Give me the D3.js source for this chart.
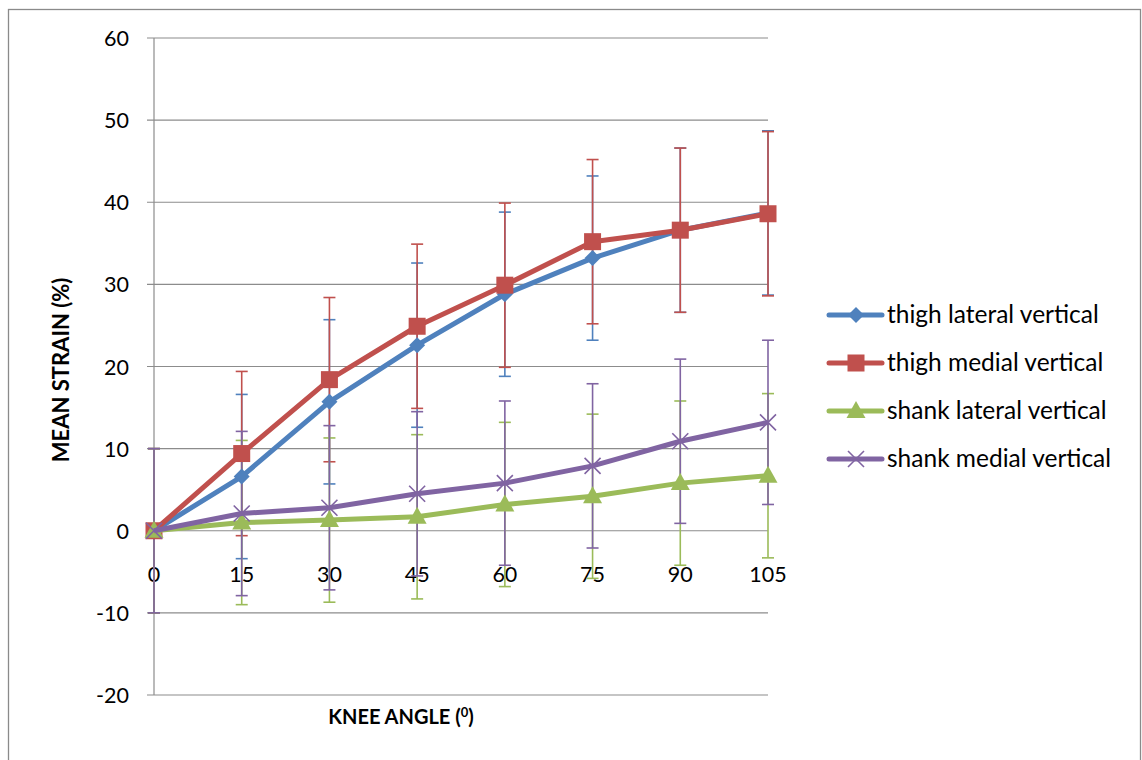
<!DOCTYPE html>
<html>
<head>
<meta charset="utf-8">
<script src="https://cdn.jsdelivr.net/npm/d3@7"></script>
<style>
  body { margin: 0; background: #fff; }
  svg text { font-family: Lato, "Open Sans", sans-serif; fill: #000; }
</style>
</head>
<body>
<svg id="chart" width="1142" height="760"></svg>
<script>
// knee angles (categories)
var angles = [0, 15, 30, 45, 60, 75, 90, 105];
var yTicks = [-20, -10, 0, 10, 20, 30, 40, 50, 60];

// mean strain values
var thighLateral = [0, 6.6, 15.7, 22.6, 28.8, 33.2, 36.6, 38.7];
var thighMedial  = [0, 9.4, 18.4, 24.9, 29.9, 35.2, 36.6, 38.6];
var shankLateral = [0, 1.0, 1.3, 1.7, 3.2, 4.2, 5.8, 6.7];
var shankMedial  = [0, 2.1, 2.8, 4.5, 5.8, 7.9, 10.9, 13.2];
// error bar half-widths (same for every point)
var errAmount = [10, 10, 10, 10, 10, 10, 10, 10];

var seriesNames = ["thigh lateral vertical", "thigh medial vertical", "shank lateral vertical", "shank medial vertical"];
var seriesValues = [thighLateral, thighMedial, shankLateral, shankMedial];
var colors = ["#4F81BD", "#C0504D", "#9BBB59", "#8064A2"];
var markers = ["diamond", "square", "triangle", "cross"];

var svg = d3.select("#chart");

// outer chart border
svg.append("rect")
    .attr("x", 8.5).attr("y", 9.5)
    .attr("width", 1132).attr("height", 760)
    .style("fill", "none").style("stroke", "#8a8a8a").style("stroke-width", 1.3);

var x = d3.scalePoint().domain(angles).range([154, 768]);
var y = d3.scaleLinear().domain([-20, 60]).range([695, 38]);

// gridlines
svg.append("g").selectAll("line")
    .data(yTicks)
    .enter().append("line")
    .attr("x1", 147).attr("x2", 768)
    .attr("y1", function (d) { return y(d); })
    .attr("y2", function (d) { return y(d); })
    .style("stroke", "#8c8c8c").style("stroke-width", 1.2);

// y axis line
svg.append("line")
    .attr("x1", 154).attr("x2", 154)
    .attr("y1", y(60)).attr("y2", y(-20))
    .style("stroke", "#8c8c8c").style("stroke-width", 1.2);

// y tick labels
svg.append("g").selectAll("text")
    .data(yTicks)
    .enter().append("text")
    .attr("x", 129)
    .attr("y", function (d) { return y(d) + 8; })
    .attr("text-anchor", "end")
    .style("font-size", "21.5px")
    .text(function (d) { return d; });

// x tick labels (sit just under the zero line)
svg.append("g").selectAll("text")
    .data(angles)
    .enter().append("text")
    .attr("x", function (d) { return x(d); })
    .attr("y", y(0) + 51)
    .attr("text-anchor", "middle")
    .style("font-size", "21.5px")
    .text(function (d) { return d; });

// axis titles
var xt = svg.append("text")
    .attr("x", 401).attr("y", 724)
    .attr("text-anchor", "middle")
    .style("font-size", "20px").style("font-weight", "bold");
xt.append("tspan").text("KNEE ANGLE (");
xt.append("tspan").attr("dy", -7).style("font-size", "13px").text("0");
xt.append("tspan").attr("dy", 7).text(")");

svg.append("text")
    .attr("transform", "translate(69,370) rotate(-90)")
    .attr("text-anchor", "middle")
    .style("font-size", "22px").style("font-weight", "bold")
    .text("MEAN STRAIN (%)");

function drawMarker(g, type, cx, cy, color) {
    if (type == "diamond") {
        g.append("path")
            .attr("d", "M" + cx + "," + (cy - 8) + "L" + (cx + 8) + "," + cy + "L" + cx + "," + (cy + 8) + "L" + (cx - 8) + "," + cy + "Z")
            .style("fill", color);
    } else if (type == "square") {
        g.append("rect")
            .attr("x", cx - 8.5).attr("y", cy - 8.5)
            .attr("width", 17).attr("height", 17)
            .style("fill", color);
    } else if (type == "triangle") {
        g.append("path")
            .attr("d", "M" + cx + "," + (cy - 10) + "L" + (cx + 9.5) + "," + (cy + 7) + "L" + (cx - 9.5) + "," + (cy + 7) + "Z")
            .style("fill", color);
    } else {
        g.append("path")
            .attr("d", "M" + (cx - 8) + "," + (cy - 8) + "L" + (cx + 8) + "," + (cy + 8) + "M" + (cx + 8) + "," + (cy - 8) + "L" + (cx - 8) + "," + (cy + 8))
            .style("stroke", color).style("stroke-width", 1.6).style("fill", "none");
    }
}

// error bars for every series
seriesValues.forEach(function (values, s) {
    var g = svg.append("g");
    values.forEach(function (v, i) {
        var cx = x(angles[i]);
        var top = y(v + errAmount[i]);
        var bot = y(v - errAmount[i]);
        g.append("line").attr("x1", cx).attr("x2", cx).attr("y1", top).attr("y2", bot)
            .style("stroke", colors[s]).style("stroke-width", 1.6);
        [top, bot].forEach(function (yy) {
            g.append("line").attr("x1", cx - 6).attr("x2", cx + 6).attr("y1", yy).attr("y2", yy)
                .style("stroke", colors[s]).style("stroke-width", 1.6);
        });
    });
});

// lines and markers
var line = d3.line()
    .x(function (d, i) { return x(angles[i]); })
    .y(function (d) { return y(d); });

seriesValues.forEach(function (values, s) {
    var g = svg.append("g");
    g.append("path")
        .datum(values)
        .attr("d", line)
        .style("fill", "none")
        .style("stroke", colors[s])
        .style("stroke-width", 5)
        .style("stroke-linejoin", "round");
    values.forEach(function (v, i) {
        drawMarker(g, markers[s], x(angles[i]), y(v), colors[s]);
    });
});

// legend
var legend = svg.append("g");
seriesNames.forEach(function (name, s) {
    var ly = 315 + s * 48;
    legend.append("line")
        .attr("x1", 829).attr("x2", 882).attr("y1", ly).attr("y2", ly)
        .style("stroke", colors[s]).style("stroke-width", 5).style("stroke-linecap", "round");
    drawMarker(legend, markers[s], 856, ly, colors[s]);
    legend.append("text")
        .attr("x", 887).attr("y", ly + 8)
        .style("font-size", "24.5px")
        .text(name);
});
</script>
</body>
</html>
